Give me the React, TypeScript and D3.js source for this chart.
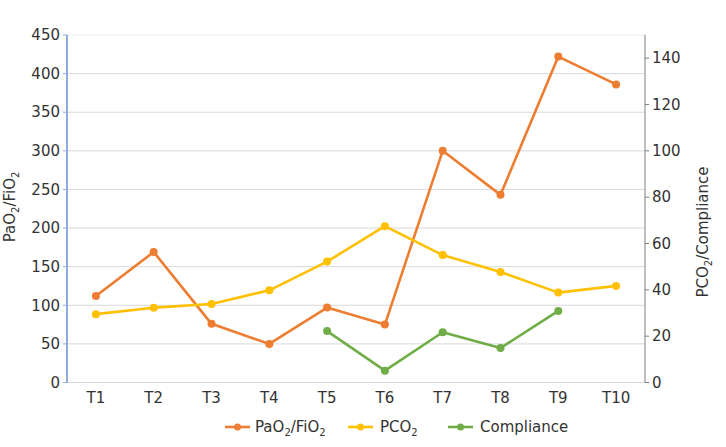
import React from "react";
import * as d3 from "d3";

const categories = ["T1", "T2", "T3", "T4", "T5", "T6", "T7", "T8", "T9", "T10"];
const pao2Fio2 = [112, 169, 76, 50, 97, 75, 300, 243, 422, 386];
const pco2 = [29.5, 32.3, 33.9, 39.8, 52.2, 67.5, 55.0, 47.7, 38.8, 41.7];
const compliance: (number | null)[] = [null, null, null, null, 22.2, 5.1, 21.7, 14.9, 30.9, null];
const leftTicks = [0, 50, 100, 150, 200, 250, 300, 350, 400, 450];
const rightTicks = [0, 20, 40, 60, 80, 100, 120, 140];

const W = 726, H = 447;
const L = 67, R = 645, T = 35, B = 382.5;
const FONT = "'DejaVu Sans', Verdana, sans-serif";
const TXT = "#333";

export default function App() {
  const x = d3.scaleBand<string>().domain(categories).range([L, R]);
  const cx = (c: string) => (x(c) as number) + x.bandwidth() / 2;
  const yL = d3.scaleLinear().domain([0, 450]).range([B, T]);
  const yR = d3.scaleLinear().domain([0, 150]).range([B, T]);

  const series = [
    { name: "pao2", color: "#ED7D31", vals: pao2Fio2 as (number | null)[], y: yL },
    { name: "pco2", color: "#FFC000", vals: pco2 as (number | null)[], y: yR },
    { name: "comp", color: "#70AD47", vals: compliance, y: yR },
  ];

  const sub = (main: string, parts: [string, boolean][]) => null;

  return (
    <svg width={W} height={H} style={{ position: "absolute", left: 0, top: 0, background: "#fff" }} fontFamily={FONT}>
      {/* gridlines */}
      {leftTicks.map((t) => (
        <line key={t} x1={L} x2={R} y1={yL(t)} y2={yL(t)} stroke={t === 450 ? "#EFEFEF" : "#D9D9D9"} strokeWidth={1} />
      ))}
      {/* left axis */}
      <line x1={L} x2={L} y1={T} y2={B} stroke="#8FAADC" strokeWidth={2} />
      {leftTicks.map((t) => (
        <g key={t}>
          <line x1={L - 4} x2={L} y1={yL(t)} y2={yL(t)} stroke="#8FAADC" strokeWidth={1} />
          <text x={60} y={yL(t)} dy="0.35em" textAnchor="end" fontSize={15} fill={TXT}>{t}</text>
        </g>
      ))}
      {/* right axis */}
      <line x1={R} x2={R} y1={T} y2={B} stroke="#7F7F7F" strokeWidth={1} />
      {rightTicks.map((t) => (
        <g key={t}>
          <line x1={R} x2={R + 4} y1={yR(t)} y2={yR(t)} stroke="#7F7F7F" strokeWidth={1} />
          <text x={652} y={yR(t)} dy="0.35em" textAnchor="start" fontSize={15} fill={TXT}>{t}</text>
        </g>
      ))}
      {/* x labels */}
      {categories.map((c) => (
        <text key={c} x={cx(c)} y={403} textAnchor="middle" fontSize={15} fill={TXT}>{c}</text>
      ))}
      {/* axis titles */}
      <text transform={`translate(15,207) rotate(-90)`} textAnchor="middle" fontSize={15} fill={TXT}>
        PaO<tspan fontSize={10} dy={4}>2</tspan><tspan dy={-4}>/FiO</tspan><tspan fontSize={10} dy={4}>2</tspan>
      </text>
      <text transform={`translate(708,232) rotate(-90)`} textAnchor="middle" fontSize={15} fill={TXT}>
        PCO<tspan fontSize={10} dy={4}>2</tspan><tspan dy={-4}>/Compliance</tspan>
      </text>
      {/* series */}
      {series.map((s) => {
        const line = d3
          .line<number | null>()
          .defined((d) => d !== null)
          .x((_, i) => cx(categories[i]))
          .y((d) => s.y(d as number));
        return (
          <g key={s.name}>
            <path d={line(s.vals) || ""} fill="none" stroke={s.color} strokeWidth={2.6} strokeLinejoin="round" />
            {s.vals.map((v, i) =>
              v === null ? null : <circle key={i} cx={cx(categories[i])} cy={s.y(v)} r={4} fill={s.color} />
            )}
          </g>
        );
      })}
      {/* legend */}
      <g>
        <line x1={225} x2={250} y1={427} y2={427} stroke="#ED7D31" strokeWidth={2.6} />
        <circle cx={237.5} cy={427} r={3.5} fill="#ED7D31" />
        <text x={255} y={432} fontSize={15} fill={TXT}>
          PaO<tspan fontSize={10} dy={4}>2</tspan><tspan dy={-4}>/FiO</tspan><tspan fontSize={10} dy={4}>2</tspan>
        </text>
        <line x1={348} x2={373} y1={427} y2={427} stroke="#FFC000" strokeWidth={2.6} />
        <circle cx={360.5} cy={427} r={3.5} fill="#FFC000" />
        <text x={380} y={432} fontSize={15} fill={TXT}>
          PCO<tspan fontSize={10} dy={4}>2</tspan>
        </text>
        <line x1={448} x2={473} y1={427} y2={427} stroke="#70AD47" strokeWidth={2.6} />
        <circle cx={460.5} cy={427} r={3.5} fill="#70AD47" />
        <text x={480} y={432} fontSize={15} fill={TXT}>Compliance</text>
      </g>
    </svg>
  );
}
